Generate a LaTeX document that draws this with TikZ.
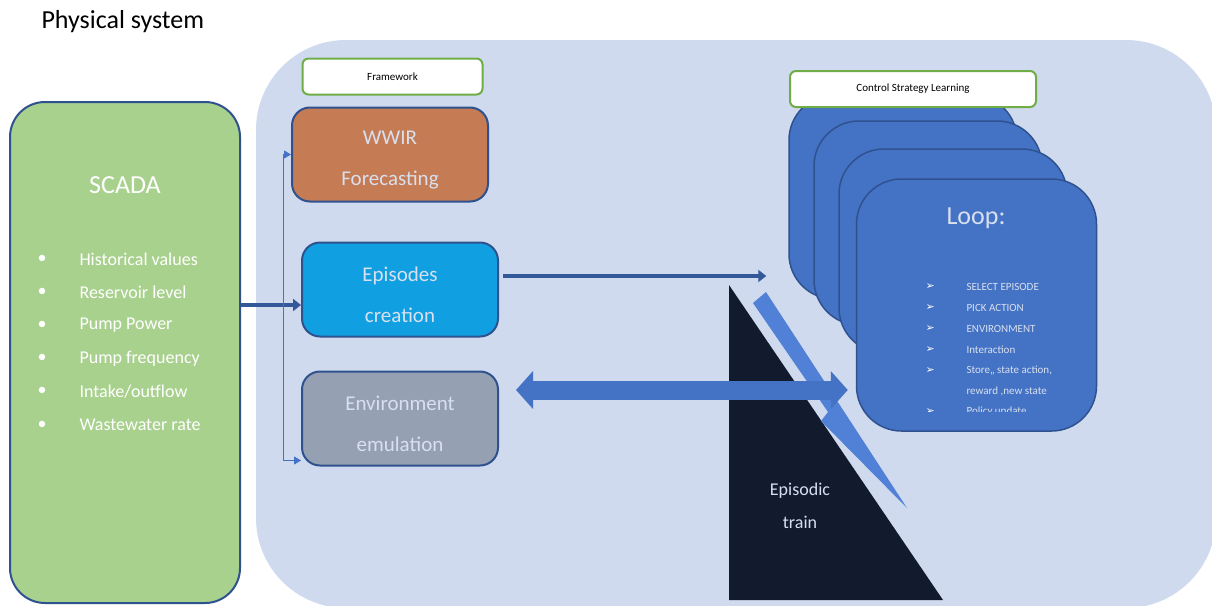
\documentclass[tikz,border=0pt]{standalone}
\usepackage{fontspec}
\setmainfont{Carlito}
\newfontfamily\dingfont{DejaVu Sans}
\usetikzlibrary{arrows.meta,positioning,calc}
\definecolor{paper}{RGB}{207,218,238}
\definecolor{navy}{RGB}{47,82,143}
\definecolor{royal}{RGB}{68,114,196}
\definecolor{sky}{RGB}{16,160,226}
\definecolor{clay}{RGB}{197,123,83}
\definecolor{slate}{RGB}{149,160,178}
\definecolor{moss}{RGB}{169,209,142}
\definecolor{grass}{RGB}{112,173,71}
\definecolor{night}{RGB}{17,27,45}
\definecolor{beam}{RGB}{80,129,214}
\definecolor{pale}{RGB}{216,224,240}
\newcommand{\lift}{\rule{0pt}{25pt}}
\tikzset{
  stage/.style={draw=navy,fill=#1,line width=2pt,rounded corners=18pt,
    minimum width=196pt,minimum height=94pt,align=center,text=pale,
    font=\fontsize{21}{41}\selectfont},
  stage/.default=sky,
  tag/.style={draw=grass,fill=white,line width=2pt,rounded corners=6pt,
    minimum height=36pt,minimum width=#1,font=\fontsize{11}{13}\selectfont},
  tag/.default=180pt,
  card/.style={draw=navy,fill=royal,line width=1.5pt,rounded corners=45pt,
    minimum width=228pt,minimum height=204pt},
  item/.style={anchor=west,text=white,font=\fontsize{18}{20}\selectfont},
  loopitem/.style={anchor=west,text=pale,font=\fontsize{11}{13}\selectfont},
  link/.style={draw=navy!80!royal,line width=#1,-{Triangle[length=8pt,width=12pt]}},
  link/.default=4.5pt,
  thin link/.style={draw=royal,line width=1pt,-{Triangle[length=7pt,width=8pt]}},
  big arrow/.style={draw=royal,line width=19pt,
    {Triangle[length=17pt,width=37pt]}-{Triangle[length=17pt,width=37pt]}},
}

\begin{document}
\begin{tikzpicture}[x=1pt,y=-1pt]
  \useasboundingbox (0,0) rectangle (1212,605);
  \fill[paper,rounded corners=90pt] (256,40) rectangle (1216,608);
  \node[anchor=west,font=\fontsize{26}{30}\selectfont] (phys) at (38,22) {Physical system};

  % SCADA column
  \node[draw=navy,fill=moss,line width=2pt,rounded corners=35pt,
    minimum width=230pt,minimum height=501pt] (scada) at (125,352.5) {};
  \node[text=white,font=\fontsize{26}{30}\selectfont] (scadat) at (125,185) {SCADA};
  \foreach \t [count=\k] in {Historical values,Reservoir level,Pump Power,
      Pump frequency,Intake/outflow,Wastewater rate}{
    \node[item] (sb\k) at (34,{259+33.2*(\k-1)}) {\textbullet};
    \node[item] (sv\k) at (76,{259+33.2*(\k-1)}) {\t};
  }

  % framework stages
  \node[stage=clay] (wwir) at (390,154.5) {\lift WWIR\\Forecasting};
  \node[stage=sky] (epi) at (400,289.5) {\lift Episodes\\creation};
  \node[stage=slate] (env) at (400,418.5) {\lift Environment\\emulation};
  \node[tag] (frame) at (392.5,76.5) {Framework};

  % learning cards
  \foreach \i/\x/\y in {1/903/197,2/928/223,3/953/251}
    \node[card] (card\i) at (\x,\y) {};
  \node[card,minimum width=240pt,minimum height=252pt] (loop) at (976.5,305) {};
  \node[text=pale,font=\fontsize{26}{30}\selectfont] (loopt) at (976,218) {Loop:};
  \begin{scope}
    \clip (857,179) rectangle (1096,411);
    \foreach \k in {1,2,3,4,5,7}
      \node[loopitem,text=white] (lb\k) at (922,{287+20.8*(\k-1)}) {\dingfont\fontsize{11}{12}\selectfont ➢};
    \foreach \t [count=\k] in {SELECT EPISODE,PICK ACTION,ENVIRONMENT,Interaction,
        {Store,, state action,},{reward ,new state},Policy update}
      \node[loopitem] (li\k) at (963,{287+20.8*(\k-1)}) {\t};
  \end{scope}
  \node[tag=246pt] (ctrl) at (913,89) {Control Strategy Learning};

  % episodic train
  \fill[night] (729,285) -- (729,600) -- (943,600) -- cycle;
  \node[text=pale,align=center,font=\fontsize{18}{33}\selectfont] (train) at (800,506) {Episodic\\train};
  \fill[beam] (753,303) -- (766,292) -- (907,508) -- (821,421) -- (828,412) -- cycle;

  % connectors
  \coordinate (split) at (283,305);
  \draw[link] (split -| scada.east) -- (split -| epi.west);
  \draw[thin link] (split) |- (wwir.west);
  \draw[thin link] (split) |- ([yshift=6pt]env.south west);
  \coordinate (eo) at ([yshift=13.5pt]epi.east);
  \draw[link=4pt,shorten <=4pt,shorten >=22pt] (eo) -- (eo -| card1.west);
  \coordinate (ea) at ([yshift=28.5pt]env.east);
  \draw[big arrow,shorten <=17pt,shorten >=8pt] (ea) -- (ea -| loop.west);
\end{tikzpicture}
\end{document}
